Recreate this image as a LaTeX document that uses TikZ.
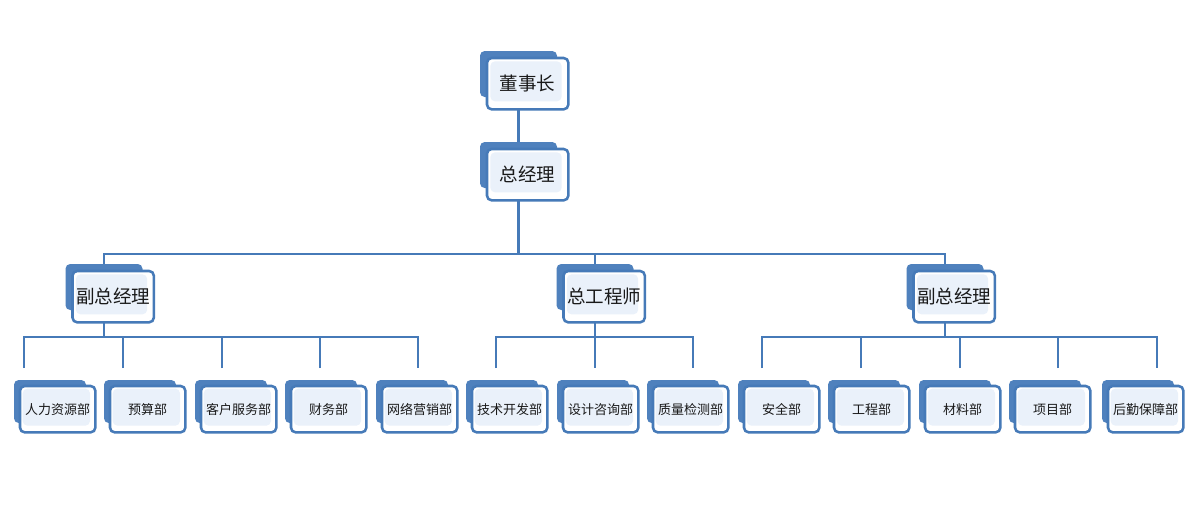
\documentclass[tikz,border=0pt]{standalone}
\usepackage{fontspec}
\setmainfont{Noto Sans CJK SC}
\usetikzlibrary{positioning,backgrounds}
\definecolor{boxblue}{RGB}{79,129,189}
\definecolor{boxline}{RGB}{70,122,184}
\definecolor{boxfill}{RGB}{234,241,250}
\definecolor{boxtext}{RGB}{25,25,25}
\tikzset{
backbox/.style={
  rectangle,
  rounded corners=3.5pt,
  fill=boxblue,
  inner sep=0pt,
  minimum width=57.75pt,
  minimum height=34.5pt,
  }
}
\tikzset{
subback/.style={
  backbox,
  minimum width=54pt,
  minimum height=32.25pt,
  }
}
\tikzset{
frontbox/.style={
  rectangle,
  rounded corners=3.5pt,
  draw=boxline,
  line width=1.9pt,
  fill=white,
  inner sep=0pt,
  minimum width=61pt,
  minimum height=38.5pt,
  text=boxtext,
  font=\fontsize{13.9}{16}\selectfont,
  path picture={\fill[boxfill] ([shift={(2.5pt,-2.5pt)}]path picture bounding box.north west) rectangle ([shift={(-5pt,6pt)}]path picture bounding box.south east);},
  }
}
\tikzset{
subfront/.style={
  frontbox,
  minimum width=56.5pt,
  minimum height=34.75pt,
  font=\fontsize{9.75}{12}\selectfont,
  path picture={\fill[boxfill] ([shift={(2pt,-2pt)}]path picture bounding box.north west) rectangle ([shift={(-4pt,5pt)}]path picture bounding box.south east);},
  }
}
\tikzset{
myline/.style={
  line width=1.9pt,
  draw=boxline,
  }
}
\begin{document}
\begin{tikzpicture}[x=0.75pt,y=-0.75pt]
    \useasboundingbox (0,0) rectangle (1200,518);

    % top levels
    \node[backbox] (dsz) at (518.5,74) {};
    \node[frontbox, below right=4.5pt and 4.5pt of dsz.north west] (dsz_f) {董事长};
    \node[backbox] (zjl) at (518.5,165) {};
    \node[frontbox, below right=4.5pt and 4.5pt of zjl.north west] (zjl_f) {总经理};

    % second level
    \node[backbox] (fzl1) at (104,287) {};
    \node[frontbox, below right=4.5pt and 4.5pt of fzl1.north west] (fzl1_f) {副总经理};
    \node[backbox] (zgcs) at (595,287) {};
    \node[frontbox, below right=4.5pt and 4.5pt of zgcs.north west] (zgcs_f) {总工程师};
    \node[backbox] (fzl2) at (945,287) {};
    \node[frontbox, below right=4.5pt and 4.5pt of fzl2.north west] (fzl2_f) {副总经理};

    % departments
    \node[subback] (rlzy) at (50,401.5) {};
    \node[subfront, below right=3.75pt and 3.75pt of rlzy.north west] (rlzy_f) {人力资源部};
    \node[subback] (ys) at (140,401.5) {};
    \node[subfront, below right=3.75pt and 3.75pt of ys.north west] (ys_f) {预算部};
    \node[subback] (khfw) at (231,401.5) {};
    \node[subfront, below right=3.75pt and 3.75pt of khfw.north west] (khfw_f) {客户服务部};
    \node[subback] (cw) at (321,401.5) {};
    \node[subfront, below right=3.75pt and 3.75pt of cw.north west] (cw_f) {财务部};
    \node[subback] (wlyx) at (412,401.5) {};
    \node[subfront, below right=3.75pt and 3.75pt of wlyx.north west] (wlyx_f) {网络营销部};
    \node[subback] (jskf) at (502,401.5) {};
    \node[subfront, below right=3.75pt and 3.75pt of jskf.north west] (jskf_f) {技术开发部};
    \node[subback] (sjzx) at (593,401.5) {};
    \node[subfront, below right=3.75pt and 3.75pt of sjzx.north west] (sjzx_f) {设计咨询部};
    \node[subback] (zljc) at (683,401.5) {};
    \node[subfront, below right=3.75pt and 3.75pt of zljc.north west] (zljc_f) {质量检测部};
    \node[subback] (aq) at (774,401.5) {};
    \node[subfront, below right=3.75pt and 3.75pt of aq.north west] (aq_f) {安全部};
    \node[subback] (gc) at (864,401.5) {};
    \node[subfront, below right=3.75pt and 3.75pt of gc.north west] (gc_f) {工程部};
    \node[subback] (cl) at (955,401.5) {};
    \node[subfront, below right=3.75pt and 3.75pt of cl.north west] (cl_f) {材料部};
    \node[subback] (xm) at (1045,401.5) {};
    \node[subfront, below right=3.75pt and 3.75pt of xm.north west] (xm_f) {项目部};
    \node[subback] (hqbz) at (1138,401.5) {};
    \node[subfront, below right=3.75pt and 3.75pt of hqbz.north west] (hqbz_f) {后勤保障部};

    % connector ends and buses
    \coordinate (bus0) at (518.5,254);
    \coordinate (busA) at (104,337);
    \coordinate (busB) at (595,337);
    \coordinate (busC) at (945,337);
    \coordinate (a1) at (24,368);
    \coordinate (a2) at (123,368);
    \coordinate (a3) at (222,368);
    \coordinate (a4) at (320,368);
    \coordinate (a5) at (418,368);
    \coordinate (b1) at (496,368);
    \coordinate (b2) at (595,368);
    \coordinate (b3) at (693,368);
    \coordinate (c1) at (762,368);
    \coordinate (c2) at (861,368);
    \coordinate (c3) at (960,368);
    \coordinate (c4) at (1058,368);
    \coordinate (c5) at (1157,368);

    \begin{scope}[on background layer]
	\fill[white] (0,0) rectangle (1200,518);

	% top edges
	\draw[myline] (dsz.center) -- (zjl.center);
	\draw[myline] (zjl.center) -- (bus0);
	\draw[myline] (fzl1.center) |- (bus0) -| (fzl2.center);
	\draw[myline] (zgcs.center) -- (zgcs |- bus0);

	% left edges
	\draw[myline] (fzl1.center) -- (busA);
	\draw[myline] (a1) |- (busA) -| (a5);
	\draw[myline] (a2) -- (a2 |- busA);
	\draw[myline] (a3) -- (a3 |- busA);
	\draw[myline] (a4) -- (a4 |- busA);

	% middle edges
	\draw[myline] (zgcs.center) -- (b2);
	\draw[myline] (b1) |- (busB) -| (b3);

	% right edges
	\draw[myline] (fzl2.center) -- (busC);
	\draw[myline] (c1) |- (busC) -| (c5);
	\draw[myline] (c2) -- (c2 |- busC);
	\draw[myline] (c3) -- (c3 |- busC);
	\draw[myline] (c4) -- (c4 |- busC);
    \end{scope}
  \end{tikzpicture}
\end{document}
